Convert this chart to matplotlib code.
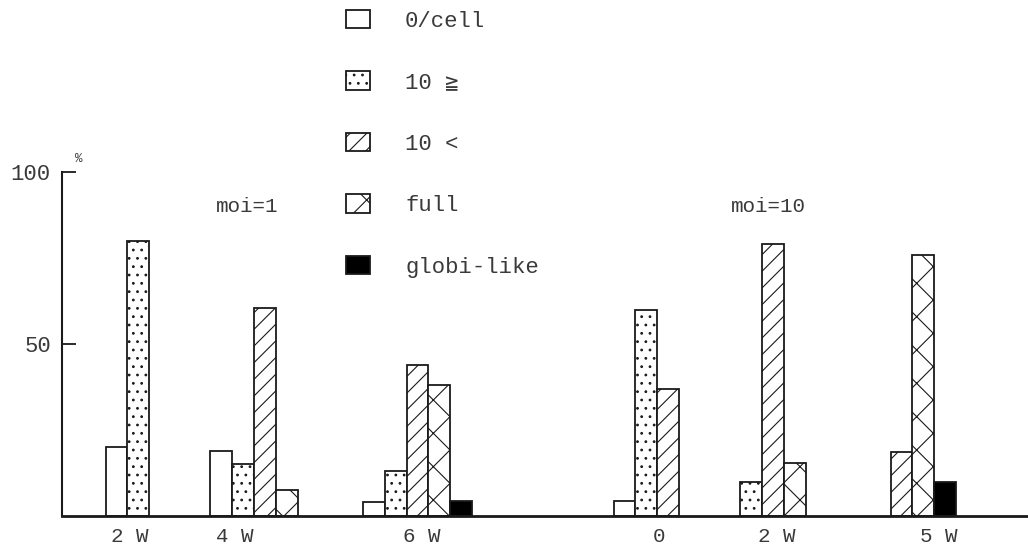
import matplotlib
matplotlib.use("Agg")
import matplotlib.pyplot as plt
from matplotlib.patches import Patch

# ---- data (%) ----
categories = ["0/cell", "10 ≧", "10 <", "full", "globi-like"]
group_labels = ["2 W", "4 W", "6 W", "0", "2 W", "5 W"]
# which categories appear in each group, left to right
group_cats = [
    [0, 1],
    [0, 1, 2, 3],
    [0, 1, 2, 3, 4],
    [0, 1, 2],
    [1, 2, 3],
    [2, 3, 4],
]
group_vals = [
    [20, 80],
    [19, 15, 60.5, 7.5],
    [4, 13, 44, 38, 4.5],
    [4.5, 60, 37],
    [10, 79, 15.5],
    [18.5, 76, 10],
]
moi_labels = ["moi=1", "moi=10"]

# ---- layout / style ----
group_start = [2.0, 6.8, 13.8, 25.3, 31.1, 38.0]   # left edge of first bar
label_pos = [3.1, 7.9, 16.5, 27.4, 32.8, 40.2]
moi_pos = [(8.5, 90), (32.4, 90)]
BAR_W = 1.0
hatches = ["", "..", "//", "x", ""]
faces = ["white", "white", "white", "white", "black"]
INK = "#1a1a1a"
TXT = "#3a3a3a"

plt.rcParams["font.family"] = ["Liberation Mono", "DejaVu Sans Mono", "DejaVu Sans"]
plt.rcParams["hatch.linewidth"] = 0.8
plt.rcParams["hatch.color"] = INK

fig = plt.figure(figsize=(10.28, 5.52), dpi=100)
ax = fig.add_axes([62 / 1028, 36 / 552, 966 / 1028, 516 / 552])

for g, (cats, vals) in enumerate(zip(group_cats, group_vals)):
    for k, (c, v) in enumerate(zip(cats, vals)):
        ax.bar(group_start[g] + k * BAR_W, v, width=BAR_W, align="edge",
               facecolor=faces[c], edgecolor=INK, hatch=hatches[c],
               linewidth=1.3, zorder=2)

ax.set_xlim(0, 44.3)
ax.set_ylim(0, 150)

for s in ["top", "right"]:
    ax.spines[s].set_visible(False)
ax.spines["left"].set_bounds(0, 100)
ax.spines["left"].set_linewidth(1.5)
ax.spines["bottom"].set_linewidth(2)
ax.spines["left"].set_color(INK)
ax.spines["bottom"].set_color(INK)

ax.set_yticks([50, 100])
ax.set_yticklabels(["50", "100"])
ax.tick_params(axis="y", direction="in", length=10, width=1.3, pad=8,
               labelsize=16, colors=INK, labelcolor=TXT)
ax.set_xticks(label_pos)
ax.set_xticklabels(group_labels)
ax.tick_params(axis="x", length=0, pad=8, labelsize=15, labelcolor=TXT)

ax.text(0.6, 102, "%", fontsize=9, color=TXT, ha="left", va="bottom")
for txt, (x, y) in zip(moi_labels, moi_pos):
    ax.text(x, y, txt, fontsize=15, color=TXT, ha="center", va="center")

handles = [Patch(facecolor=faces[i], edgecolor=INK, hatch=hatches[i], linewidth=1.3)
           for i in range(len(categories))]
fig.legend(handles, categories, loc="upper left",
           bbox_to_anchor=(346 / 1028, 1 - 10 / 552), bbox_transform=fig.transFigure,
           frameon=False, borderpad=0, borderaxespad=0, fontsize=16,
           handlelength=1.08, handleheight=0.9, handletextpad=1.58,
           labelspacing=1.78, labelcolor=TXT)

fig.savefig("out.png", dpi=100, facecolor="white")
